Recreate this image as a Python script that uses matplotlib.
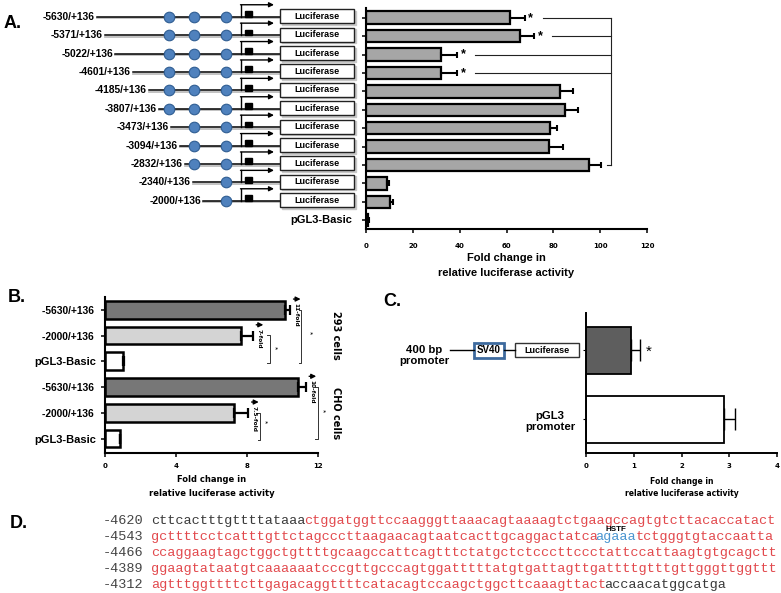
import matplotlib
matplotlib.use('Agg')
import matplotlib.pyplot as plt
from matplotlib.patches import Rectangle
import numpy as np

W, H = 781, 593
plt.rcParams['font.family'] = ['Liberation Sans', 'DejaVu Sans']

# ---------------- data ----------------
a_constructs = ["-5630/+136", "-5371/+136", "-5022/+136", "-4601/+136", "-4185/+136",
                "-3807/+136", "-3473/+136", "-3094/+136", "-2832/+136", "-2340/+136",
                "-2000/+136", "pGL3-Basic"]
a_values = [61.4, 65.7, 32.0, 32.0, 83.0, 85.0, 78.7, 78.1, 95.4, 9.0, 10.4, 1.0]
a_errors = [6.5, 6.2, 7.0, 7.0, 5.3, 5.4, 2.7, 5.9, 5.0, 0.9, 1.0, 0.2]
a_sites = [3, 3, 3, 3, 3, 3, 2, 2, 2, 1, 1, 0]
a_signif = [True, True, True, True, False, False, False, False, False, False, False, False]
a_reference = 8
a_xticks = [0, 20, 40, 60, 80, 100, 120]

b_labels = ["-5630/+136 ", "-2000/+136 ", "pGL3-Basic", "-5630/+136 ", "-2000/+136 ", "pGL3-Basic"]
b_values = [10.15, 7.66, 1.0, 10.86, 7.28, 0.86]
b_errors = [0.27, 0.66, 0.08, 0.44, 0.78, 0.0]
b_folds = ["11-fold", "7-fold", None, "10-fold", "7.5-fold", None]
b_cells = ["293 cells", "CHO cells"]
b_xticks = [0, 4, 8, 12]

c_labels = ["400 bp\npromoter", "pGL3\npromoter"]
c_values = [0.94, 2.90]
c_errors = [0.20, 0.21]
c_xticks = [0, 1, 2, 3, 4]

d_starts = [-4620, -4543, -4466, -4389, -4312]
d_rows = [
    [("cttcactttgttttataaa", "plain"),
     ("ctggatggttccaagggttaaacagtaaaagtctgaagccagtgtcttacaccatact", "region")],
    [("gcttttcctcatttgttctagcccttaagaacagtaatcacttgcaggactatca", "region"),
     ("agaaa", "site"),
     ("tctgggtgtaccaatta", "region")],
    [("ccaggaagtagctggctgttttgcaagccattcagtttctatgctctcccttccctattccattaagtgtgcagctt", "region")],
    [("ggaagtataatgtcaaaaaatcccgttgcccagtggatttttatgtgattagttgattttgtttgttgggttggttt", "region")],
    [("agtttggttttcttgagacaggttttcatacagtccaagctggcttcaaagttact", "region"),
     ("accaacatggcatga", "plain")],
]
d_site_name = "HSTF"

# ---------------- helpers ----------------
def rect(l, t, r, b):
    return [l / W, 1 - b / H, (r - l) / W, (b - t) / H]

def row_px(i, top, bottom, lo, hi):
    return top + (i - lo) / (hi - lo) * (bottom - top)

fig = plt.figure(figsize=(W / 100, H / 100), dpi=100)

def style_axis(ax, lw=1.5):
    for s in ['top', 'right']:
        ax.spines[s].set_visible(False)
    for s in ['left', 'bottom']:
        ax.spines[s].set_linewidth(lw)
    ax.tick_params(axis='both', direction='out', width=1.1, length=3)

tick_font = dict(family='DejaVu Sans', weight='bold', size=5)

# ---------------- Panel A ----------------
A_l, A_t, A_r, A_b = 366, 8, 647, 229
A_lo, A_hi = -0.53, 11.48
axA = fig.add_axes(rect(A_l, A_t, A_r, A_b))
ya = np.arange(len(a_values))
axA.barh(ya, a_values, height=0.68, color='#a6a6a6', edgecolor='black', linewidth=1.6, zorder=2)
axA.errorbar(a_values, ya, xerr=[np.zeros(len(a_errors)), a_errors], fmt='none',
             ecolor='black', elinewidth=1.5, capsize=2.4, capthick=1.5, zorder=3)
axA.set_xlim(0, 120)
axA.set_ylim(A_hi, A_lo)
axA.set_yticks(ya)
axA.set_yticklabels([])
axA.set_xticks(a_xticks)
axA.set_xticklabels([str(t) for t in a_xticks], fontdict=tick_font)
style_axis(axA)
axA.tick_params(axis='x', pad=7)
brk_x = 104.7
for i, (v, e, s) in enumerate(zip(a_values, a_errors, a_signif)):
    if s:
        axA.text(v + e + 2.5, i, '*', ha='center', va='center', fontsize=9, fontweight='bold')
        axA.plot([v + e + 7.5, brk_x], [i, i], color='#222222', lw=0.8, clip_on=False)
axA.plot([a_values[a_reference] + a_errors[a_reference] + 2.5, brk_x], [a_reference] * 2,
         color='#222222', lw=0.8, clip_on=False)
axA.plot([brk_x, brk_x], [0, a_reference], color='#222222', lw=0.8, clip_on=False)
fig.text((A_l + A_r) / 2 / W, 1 - 258 / H, "Fold change in", ha='center', va='center',
         fontsize=8, fontweight='bold')
fig.text((A_l + A_r) / 2 / W, 1 - 273 / H, "relative luciferase activity", ha='center', va='center',
         fontsize=8, fontweight='bold')

# ---------------- Panel B ----------------
B_l, B_t, B_r, B_b = 105, 297, 318, 453
B_lo, B_hi = -0.5, 5.56
axB = fig.add_axes(rect(B_l, B_t, B_r, B_b))
yb = np.arange(len(b_values))
b_colors = ['#777777', '#d4d4d4', 'white', '#777777', '#d4d4d4', 'white']
axB.barh(yb, b_values, height=0.69, color=b_colors, edgecolor='black', linewidth=1.8, zorder=2)
axB.errorbar(b_values, yb, xerr=[np.zeros(len(b_errors)), b_errors], fmt='none',
             ecolor='black', elinewidth=1.6, capsize=3.6, capthick=1.6, zorder=3)
axB.set_xlim(0, 12)
axB.set_ylim(B_hi, B_lo)
axB.set_yticks(yb)
axB.set_yticklabels(b_labels, fontsize=7.4, fontweight='bold')
for lab in axB.get_yticklabels():
    if 'pGL3' in lab.get_text():
        lab.set_fontsize(8)
axB.set_xticks(b_xticks)
axB.set_xticklabels([str(t) for t in b_xticks], fontdict=tick_font)
style_axis(axB)
axB.tick_params(axis='y', pad=3)
axB.tick_params(axis='x', pad=4)
for i, (v, e, f) in enumerate(zip(b_values, b_errors, b_folds)):
    if f:
        ax_x = v + e + 0.25
        ay = i - 0.42
        axB.annotate('', xy=(ax_x + 0.35, ay), xytext=(ax_x - 0.05, ay),
                     arrowprops=dict(arrowstyle='-|>', color='black', lw=1.0,
                                     mutation_scale=7, shrinkA=0, shrinkB=0),
                     annotation_clip=False)
        axB.text(ax_x + 0.1, ay + 0.15, f, rotation=-90, ha='center', va='top',
                 fontsize=4.2, fontweight='bold', family='DejaVu Sans')

def bracket(ax, x, y0, y1, dx, sx, sy, lw=0.7):
    ax.plot([x - dx, x, x, x - dx], [y0, y0, y1, y1], color='#333333', lw=lw, clip_on=False)
    ax.text(sx, sy, '*', ha='center', va='center', fontsize=6, rotation=-90, clip_on=False)

bracket(axB, 11.07, 0.0, 2.07, 0.15, 11.5, 0.9)
bracket(axB, 9.27, 0.98, 2.07, 0.15, 9.5, 1.45)
bracket(axB, 11.98, 3.0, 5.0, 0.15, 12.2, 3.9)
bracket(axB, 8.76, 4.01, 5.06, 0.15, 8.95, 4.36)

for k, name in enumerate(b_cells):
    yc = (row_px(3 * k, B_t, B_b, B_lo, B_hi) + row_px(3 * k + 2, B_t, B_b, B_lo, B_hi)) / 2
    fig.text(336 / W, 1 - yc / H, name, rotation=-90, ha='center', va='center',
             fontsize=7, fontweight='bold', family='DejaVu Sans')
fig.text((B_l + B_r) / 2 / W, 1 - 479 / H, "Fold change in", ha='center', va='center',
         fontsize=6, fontweight='bold', family='DejaVu Sans')
fig.text((B_l + B_r) / 2 / W, 1 - 493 / H, "relative luciferase activity", ha='center', va='center',
         fontsize=6, fontweight='bold', family='DejaVu Sans')

# ---------------- Panel C ----------------
C_l, C_t, C_r, C_b = 586, 313, 777, 453
C_lo, C_hi = -0.54, 1.49
axC = fig.add_axes(rect(C_l, C_t, C_r, C_b))
yc_ = np.arange(len(c_values))
axC.barh(yc_, c_values, height=0.68, color=['#5e5e5e', 'white'], edgecolor='black',
         linewidth=1.3, zorder=2)
axC.errorbar(c_values, yc_, xerr=[np.zeros(len(c_errors)), c_errors], fmt='none',
             ecolor='black', elinewidth=1.0, capsize=7.8, capthick=1.0, zorder=3)
axC.text(c_values[0] + c_errors[0] + 0.17, 0.02, '*', ha='center', va='center', fontsize=11)
axC.set_xlim(0, 4)
axC.set_ylim(C_hi, C_lo)
axC.set_yticks(yc_)
axC.set_yticklabels([])
axC.set_xticks(c_xticks)
axC.set_xticklabels([str(t) for t in c_xticks], fontdict=tick_font)
style_axis(axC, lw=1.4)
axC.tick_params(axis='y', length=2.5, width=0.8)
axC.tick_params(axis='x', pad=4)
fig.text((C_l + C_r) / 2 / W, 1 - 482 / H, "Fold change in", ha='center', va='center',
         fontsize=5.5, fontweight='bold', family='DejaVu Sans')
fig.text((C_l + C_r) / 2 / W, 1 - 493 / H, "relative luciferase activity", ha='center', va='center',
         fontsize=5.5, fontweight='bold', family='DejaVu Sans')

# ---------------- overlay (schematics, sequence) ----------------
ov = fig.add_axes([0, 0, 1, 1])
ov.set_xlim(0, W)
ov.set_ylim(H, 0)
ov.axis('off')

panel_font = dict(fontsize=13, fontweight='bold', ha='left', va='center')
ov.text(4, 24, "A.", **panel_font)
ov.text(8, 298, "B.", **panel_font)
ov.text(383, 301, "C.", **panel_font)
ov.text(10, 523, "D.", **panel_font)

# Panel A schematic
line_start = [97, 105, 115, 133, 149, 159, 171, 180, 185, 193, 203, None]
site_x = [169, 194, 226]
box_l, box_r = 280, 354
for i, lab in enumerate(a_constructs):
    y = row_px(i, A_t, A_b, A_lo, A_hi) - 1
    xs = line_start[i]
    if xs is None:
        ov.text(352, y + 1, lab, ha='right', va='center', fontsize=8, fontweight='bold')
        continue
    ov.text(xs - 2, y, lab, ha='right', va='center', fontsize=7.4, fontweight='bold')
    ov.plot([xs, box_l], [y + 1.6, y + 1.6], color='#bdbdbd', lw=1.3, zorder=1)
    ov.plot([xs, box_l], [y, y], color='black', lw=1.1, zorder=2)
    n = a_sites[i]
    if n:
        ov.scatter(site_x[-n:], [y] * n, s=58, color='#4f81bd', edgecolors='#2f5d92',
                   linewidths=0.8, zorder=4)
    # promoter arrow
    ov.plot([241, 241], [y, y - 12], color='black', lw=1.0, zorder=3)
    ov.annotate('', xy=(274, y - 12), xytext=(240.5, y - 12),
                arrowprops=dict(arrowstyle='-|>', color='black', lw=1.0,
                                mutation_scale=7, shrinkA=0, shrinkB=0))
    ov.add_patch(Rectangle((245, y - 5.5), 7, 5.8, color='black', zorder=3))
    ov.add_patch(Rectangle((box_l + 1.5, y - 6), box_r - box_l, 14, color='#c8c8c8', zorder=2))
    ov.add_patch(Rectangle((box_l, y - 7.5), box_r - box_l, 14, facecolor='white',
                           edgecolor='#222222', lw=1.0, zorder=3))
    ov.text((box_l + box_r) / 2, y - 0.5, "Luciferase", ha='center', va='center',
            fontsize=6.5, fontweight='bold', zorder=4)

# Panel C schematic and labels
yc0 = row_px(0, C_t, C_b, C_lo, C_hi)
yc1 = row_px(1, C_t, C_b, C_lo, C_hi)
ov.text(424, yc0 + 5, c_labels[0], ha='center', va='center', fontsize=8.2,
        fontweight='bold', linespacing=1.15)
ov.text(550, yc1 + 2, c_labels[1], ha='center', va='center', fontsize=8.2,
        fontweight='bold', linespacing=1.15)
ov.plot([450, 474], [yc0, yc0], color='black', lw=1.0)
ov.plot([504, 515], [yc0, yc0], color='black', lw=1.0)
ov.add_patch(Rectangle((474, yc0 - 7.5), 30, 15, facecolor='white', edgecolor='#3d6a9e', lw=2.0))
ov.text(489, yc0, "SV40", ha='center', va='center', fontsize=7, fontweight='bold')
ov.add_patch(Rectangle((515, yc0 - 7), 64, 14, facecolor='white', edgecolor='#333333', lw=1.0))
ov.text(547, yc0, "Luciferase", ha='center', va='center', fontsize=6.5, fontweight='bold')

# Panel D sequence
seq_fs = 9.7
cw = 0.6 * seq_fs * 100 / 72
c0 = 151
row_y0, row_dy = 521, 16
seq_colors = {'plain': '#3a3a3a', 'region': '#e2494d', 'site': '#4a95d0'}
for r, (start, segs) in enumerate(zip(d_starts, d_rows)):
    y = row_y0 + r * row_dy
    ov.text(c0 - 6 * cw, y, str(start), family='Liberation Mono', fontsize=seq_fs,
            color='#444444', ha='left', va='center')
    pos = 0
    for seg, kind in segs:
        ov.text(c0 + pos * cw, y, seg, family='Liberation Mono', fontsize=seq_fs,
                color=seq_colors[kind], ha='left', va='center')
        if kind == 'site':
            ov.text(c0 + (pos + len(seg) / 2) * cw, y - 7.5, d_site_name, ha='center',
                    va='center', fontsize=5.8, fontweight='bold')
        pos += len(seg)

fig.savefig('out.png', dpi=100)
